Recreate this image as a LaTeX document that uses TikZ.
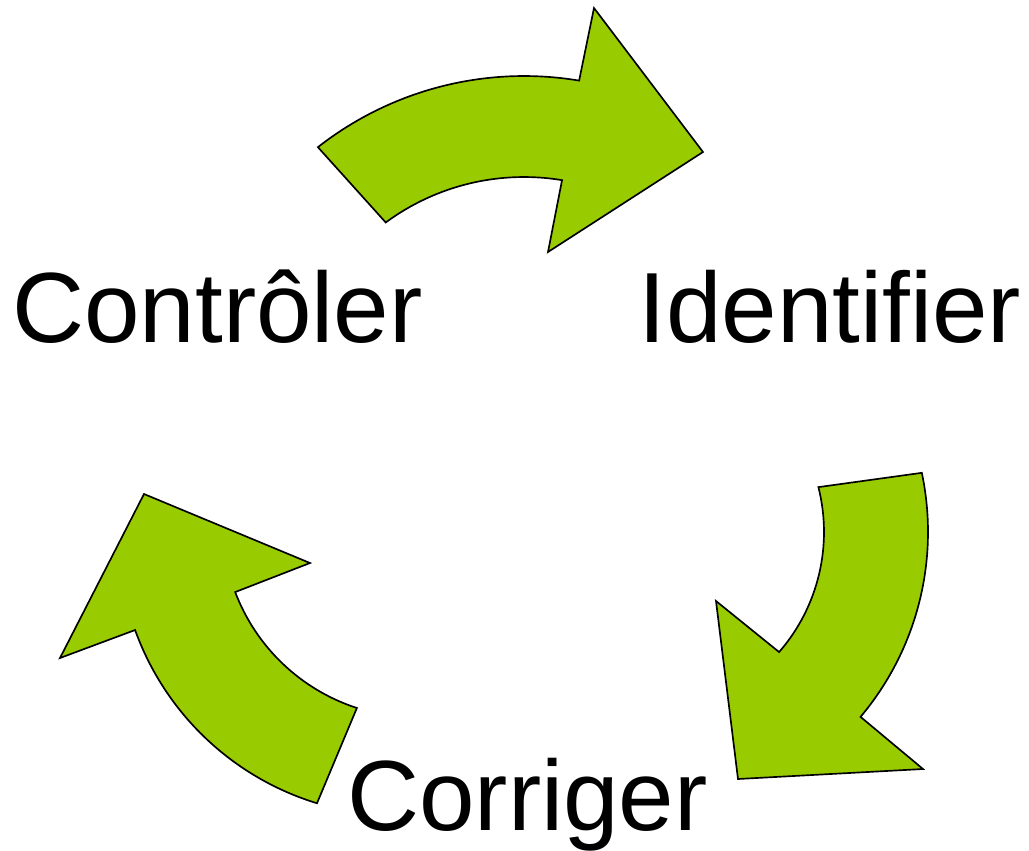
\documentclass[tikz,border=0pt]{standalone}
\usepackage{fontspec}
\setmainfont{Liberation Sans}[Ligatures=NoCommon]
\usetikzlibrary{calc}
\definecolor{arrowgreen}{HTML}{99CC00}

\begin{document}
\begin{tikzpicture}[
    x=0.02cm,
    y=-0.02cm,
    cyclearrow/.style={fill=arrowgreen, draw=black, line width=0.95pt, line join=miter},
    stagetext/.style={anchor=base west, inner sep=0pt, font=\fontsize{56.8}{68}\selectfont}
]
\useasboundingbox (0,0) rectangle (1029,850);

% Arc centres
\coordinate (ctop) at (524,410);
\coordinate (cright) at (641,532);
\coordinate (cleftout) at (399,535);
\coordinate (cleftin) at (417,523);

% Arrows
\filldraw[cyclearrow] ($(ctop)+(-128.1:334)$) arc[start angle=-128.1, end angle=-80.5, radius=334]
    -- (594,8) -- (703,152) -- (548,252)
    -- ($(ctop)+(-80.6:233)$) arc[start angle=-80.6, end angle=-126.4, radius=233] -- cycle;
\filldraw[cyclearrow] ($(cright)+(-11.9:287)$) arc[start angle=-11.9, end angle=40.1, radius=287]
    -- (923,769) -- (738,779) -- (716,601)
    -- ($(cright)+(41.0:183)$) arc[start angle=41.0, end angle=-14.2, radius=183] -- cycle;
\filldraw[cyclearrow] ($(cleftout)+(107.0:280.5)$) arc[start angle=107.0, end angle=160.2, radius=280.5]
    -- (60,658) -- (144,494) -- (310,563)
    -- ($(cleftin)+(159.2:194.5)$) arc[start angle=159.2, end angle=108.0, radius=194.5] -- cycle;

% Stages
\node[stagetext] (ctrl) at (12,342) {Contrôler};
\node[stagetext] (ident) at (638,342) {Identifier};
\node[stagetext] (corr) at (347,830) {Corriger};
\end{tikzpicture}
\end{document}
